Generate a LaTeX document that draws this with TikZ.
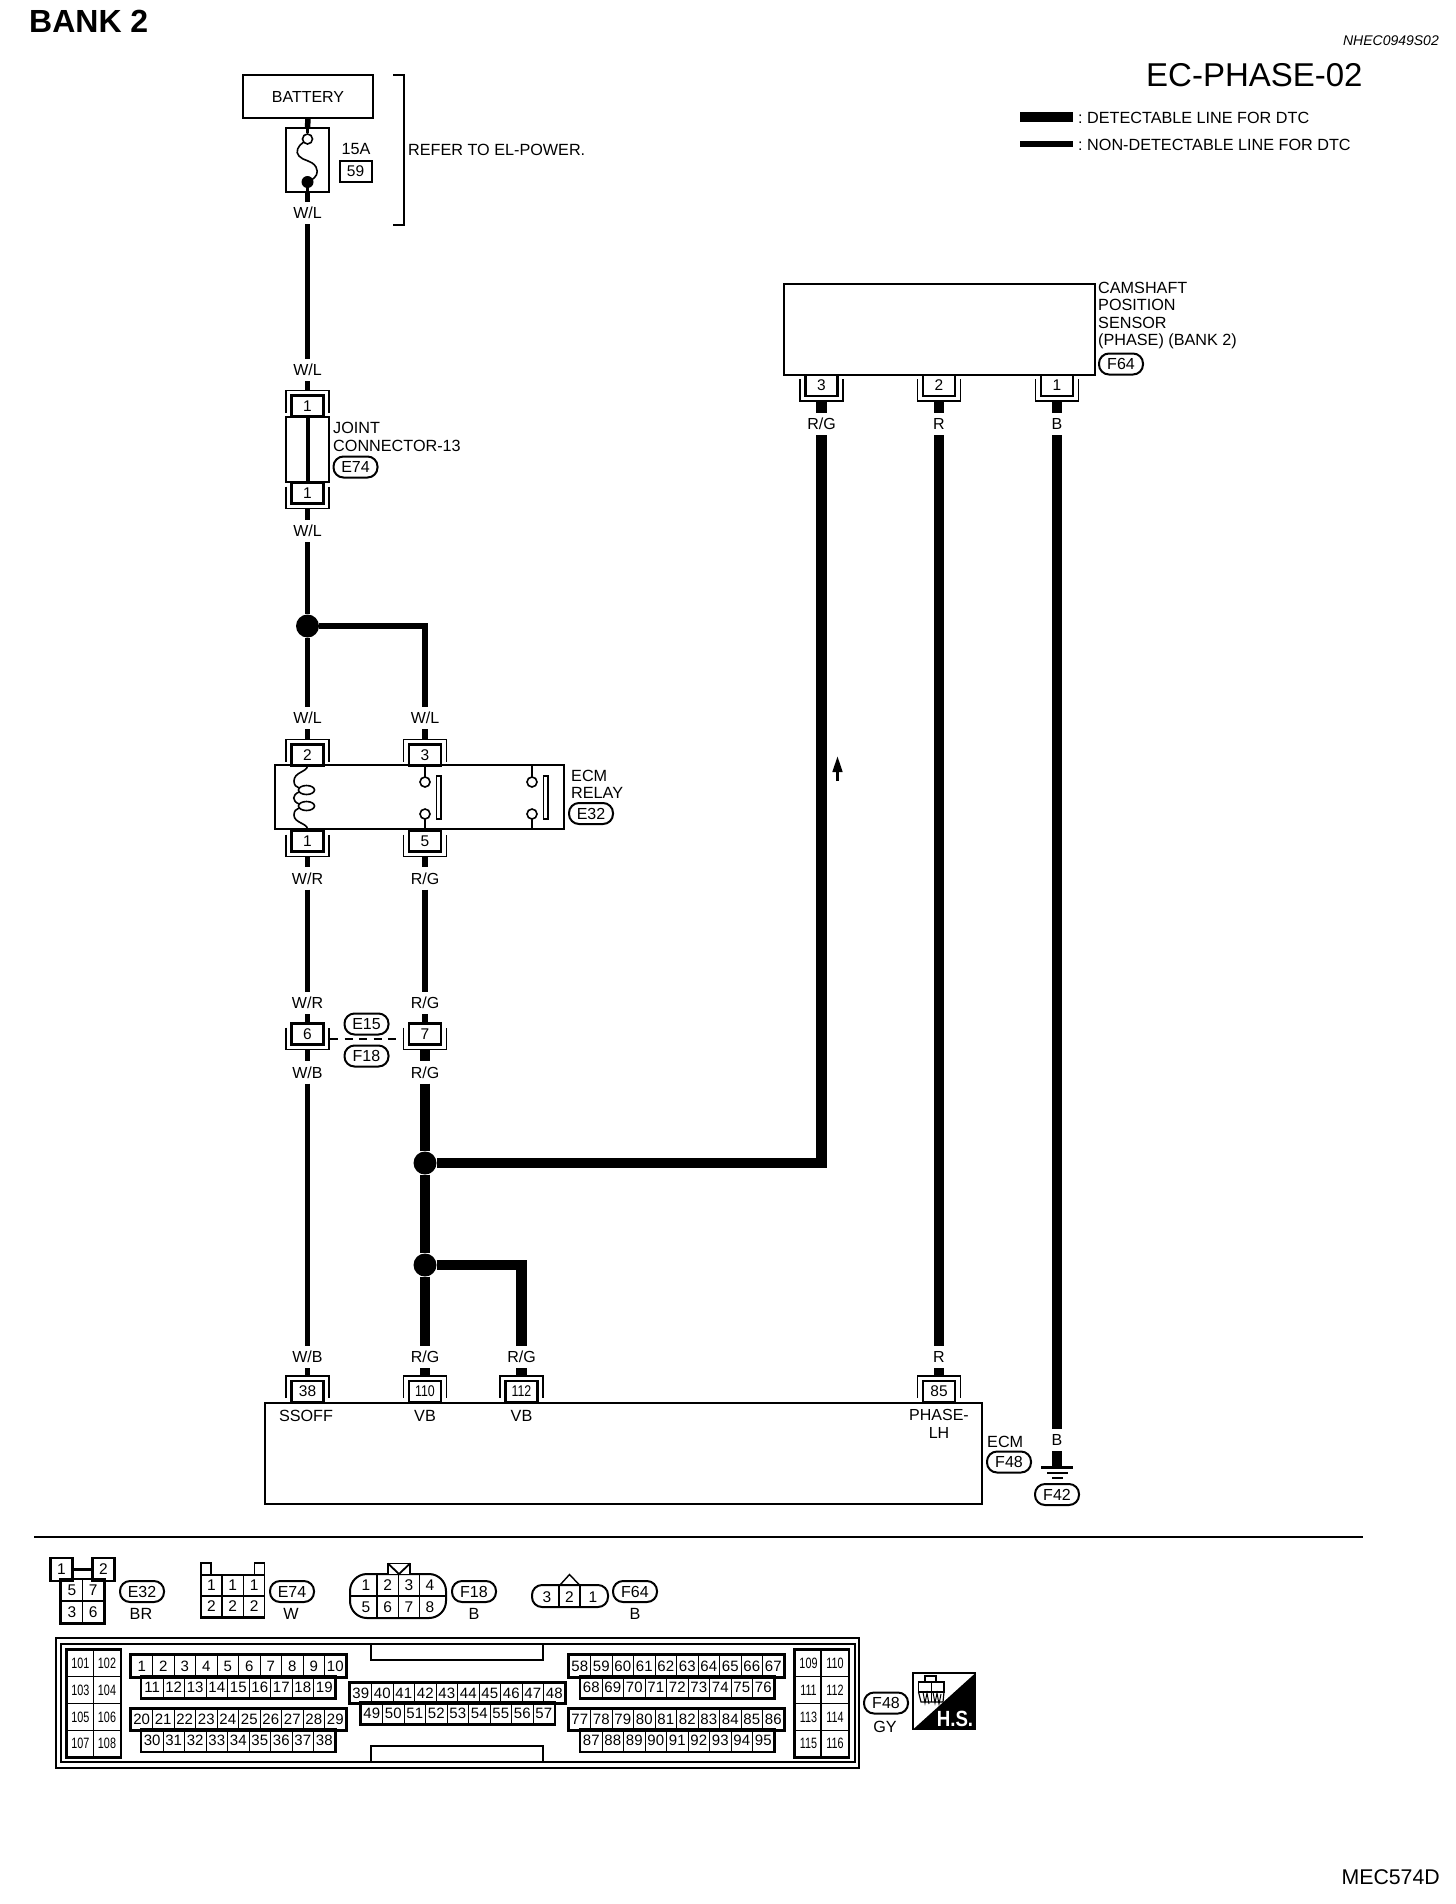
\documentclass[tikz,border=0pt]{standalone}
\usepackage{fontspec}
\setmainfont{Liberation Sans}
\usetikzlibrary{arrows.meta}
\newcommand{\fsz}[1]{\fontsize{#1}{#1}\selectfont}
\newcommand{\narrow}[1]{\scalebox{0.8}[1]{#1}}
\tikzset{
  thinwire/.style={line width=5.5pt,line cap=butt},
  thickwire/.style={line width=10.7pt,line cap=butt},
  wl/.style={inner sep=0pt,minimum height=22pt,font=\fsz{16}},
  txt/.style={inner sep=0pt,font=\fsz{16.2}},
  para/.style={inner sep=0pt,anchor=west,align=left,font=\fontsize{16.2}{17.4}\selectfont},
  body/.style={draw,line width=2pt,inner sep=0pt,fill=white},
  pinbox/.style={draw,line width=2.2pt,fill=white,minimum width=32pt,minimum height=21pt,inner sep=0pt,font=\fsz{15.5}},
  bracket/.style={line width=1.4pt},
  tag/.style={draw,line width=2pt,rounded corners=10pt,minimum width=44pt,minimum height=21pt,inner sep=0pt,font=\fsz{16},fill=white},
  gridcell/.style={draw,line width=1pt,minimum width=21.5pt,inner sep=0pt,font=\fsz{15}},
  rowframe/.style={line width=2.4pt},
  bigcell/.style={draw,line width=1.4pt,minimum height=26.75pt,inner sep=0pt,font=\fsz{15}},
  smallcell/.style={draw,line width=1.4pt,minimum width=21.3pt,minimum height=21.7pt,inner sep=0pt,font=\fsz{15.5}},
  dot/.style={circle,fill=black,inner sep=0pt,minimum size=23pt},
  contact/.style={circle,draw,line width=1.6pt,fill=white,inner sep=0pt,minimum size=10pt},
}
% pin with its wire coming from above
\newcommand{\pinT}[4]{%
  \node[pinbox] (#1) at (#2,#3) {#4};
  \coordinate (#1w) at (#2,{#3-15.5});
  \draw[bracket] ({#2-21.5},{#3+6.5}) -- ({#2-21.5},{#3-15.5}) -- ({#2+21.5},{#3-15.5}) -- ({#2+21.5},{#3+6.5});
}
% pin with its wire leaving below
\newcommand{\pinB}[4]{%
  \node[pinbox] (#1) at (#2,#3) {#4};
  \coordinate (#1w) at (#2,{#3+15.5});
  \draw[bracket] ({#2-21.5},{#3-6.5}) -- ({#2-21.5},{#3+15.5}) -- ({#2+21.5},{#3+15.5}) -- ({#2+21.5},{#3-6.5});
}
% row of numbered cells: x0, top y, height, first, last
\newcommand{\cellrow}[5]{%
  \foreach \n [evaluate=\n as \cx using {#1+(\n-#4+0.5)*21.5}] in {#4,...,#5} {
    \node[gridcell,minimum height=#3 pt] (gc\n) at ({\cx},{#2+#3/2}) {\n};
  }
  \draw[rowframe] (gc#4.north west) rectangle (gc#5.south east);
}
\begin{document}
\begin{tikzpicture}[x=1pt,y=-1pt]
\fill[white] (0,0) rectangle (1456,1904);
\useasboundingbox (0,0) rectangle (1456,1904);

% headers
\node[anchor=west,inner sep=0pt,font=\fsz{32}\bfseries] (bank) at (29,21) {BANK 2};
\node[anchor=east,inner sep=0pt,font=\fsz{14}\itshape] (nhec) at (1439,41) {NHEC0949S02};
\node[anchor=west,inner sep=0pt,font=\fsz{33}] (title) at (1146,75) {EC-PHASE-02};
\node[txt,anchor=west] (legA) at (1078,118) {:\hspace{-1.5pt} DETECTABLE LINE FOR DTC};
\node[txt,anchor=west] (legB) at (1078,145) {:\hspace{-1.5pt} NON-DETECTABLE LINE FOR DTC};
\coordinate (legAs) at (1020,117);
\coordinate (legBs) at (1020,144);
\draw[line width=9.5pt] (legAs) -- ([xshift=-5pt]legA.west |- legAs);
\draw[line width=5.5pt] (legBs) -- ([xshift=-5pt]legB.west |- legBs);
\node[anchor=east,inner sep=0pt,font=\fsz{21.3}] (mec) at (1440,1877) {MEC574D};

% battery and fuse
\node[body,minimum width=130pt,minimum height=43pt,font=\fsz{16}] (battery) at (308,96.5) {BATTERY};
\node[draw,line width=1.3pt,minimum width=43pt,minimum height=64pt,inner sep=0pt] (fuse) at (307.5,160) {};
\node[contact] (ftop) at (307.5,139) {};
\node[circle,fill=black,inner sep=0pt,minimum size=12pt] (fbot) at (307.5,182) {};
\draw[thinwire] (battery.south) -- (fuse.north);
\draw[line width=3pt] (fuse.north) -- (ftop.north);
\draw[line width=3pt] (fbot.south) -- (fuse.south);
\draw[line width=1.6pt] (303,142.5) .. controls (298,146) and (295,152) .. (299,156) .. controls (303,161) and (312,160) .. (316,167) .. controls (319,173) and (316,177) .. (311.5,180);
\node[txt] (amp) at (356,149) {15A};
\node[draw,line width=2pt,minimum width=32pt,minimum height=21pt,inner sep=0pt,font=\fsz{15.5}] (fnum) at (355.5,171.5) {59};
\draw[line width=2pt] (393,75) -- (404,75) -- (404,225) -- (393,225);
\node[txt,anchor=west] (refer) at (408,150) {REFER TO EL-POWER.};

% left wire
\node[wl] (wl1) at (307.5,213) {W/L};
\node[wl] (wl2) at (307.5,370) {W/L};
\draw[thinwire] (fuse.south) -- (wl1.north);
\draw[thinwire] (wl1.south) -- (wl2.north);
\pinT{jc1}{307.5}{406}{1}
\draw[thinwire] (wl2.south) -- (jc1w);
\node[body,minimum width=43pt,minimum height=65pt] (jcbody) at (307.5,449.5) {};
\draw[line width=4pt] (jcbody.north) -- (jcbody.south);
\pinB{jc2}{307.5}{493}{1}
\node[para] (jctext) at (333,437) {JOINT\\CONNECTOR-13};
\node[tag] (e74a) at (355.5,467) {E74};
\node[wl] (wl3) at (307.5,531) {W/L};
\draw[thinwire] (jc2w) -- (wl3.north);
\node[dot] (j1) at (307.5,626) {};
\node[wl] (wl4) at (307.5,718) {W/L};
\node[wl] (wl5) at (425,718) {W/L};
\draw[thinwire] (wl3.south) -- (j1);
\draw[thinwire] (j1) -- (wl4.north);
\draw[thinwire] (j1) -| (wl5.north);

% relay
\node[body,minimum width=289pt,minimum height=64pt] (relay) at (419.5,797) {};
\pinT{r2}{307.5}{755}{2}
\pinT{r3}{425}{755}{3}
\pinB{r1}{307.5}{841}{1}
\pinB{r5}{425}{841}{5}
\draw[thinwire] (wl4.south) -- (r2w);
\draw[thinwire] (wl5.south) -- (r3w);
\foreach \sx in {425,532} {
  \draw[line width=1.6pt] (\sx,765) -- (\sx,778);
  \draw[line width=1.6pt] (\sx,818) -- (\sx,829);
  \node[contact] at (\sx,782) {};
  \node[contact] at (\sx,814) {};
}
\draw[line width=1.5pt,fill=white] (436.5,776) rectangle (441,819);
\draw[line width=1.5pt,fill=white] (543.5,776) rectangle (548,819);
\draw[line width=1.6pt] (306.5,790) ellipse (8 and 4.5);
\draw[line width=1.6pt] (306.5,806) ellipse (8 and 4.5);
\draw[line width=1.6pt] (307.5,766) .. controls (307,772) and (294,772) .. (294,781) .. controls (294,785) and (296,787) .. (299,788);
\draw[line width=1.6pt] (299,792) .. controls (292,795) and (292,801) .. (299,804);
\draw[line width=1.6pt] (299,808) .. controls (296,809) and (294,811) .. (294,815) .. controls (294,823) and (307,823) .. (307.5,829);
\node[para] (ecmr) at (571,784.5) {ECM\\RELAY};
\node[tag] (e32a) at (591,813.5) {E32};
\node[wl] (wl6) at (307.5,878.5) {W/R};
\node[wl] (wl7) at (425,878.5) {R/G};
\draw[thinwire] (r1w) -- (wl6.north);
\draw[thinwire] (r5w) -- (wl7.north);
\node[wl] (wl8) at (307.5,1003) {W/R};
\node[wl] (wl9) at (425,1003) {R/G};
\draw[thinwire] (wl6.south) -- (wl8.north);
\draw[thinwire] (wl7.south) -- (wl9.north);

% harness connector
\pinB{p6}{307.5}{1034}{6}
\pinB{p7}{425}{1034}{7}
\draw[thinwire] (wl8.south) -- (p6.north);
\draw[thinwire] (wl9.south) -- (p7.north);
\draw[line width=1.6pt,dash pattern=on 8pt off 6.5pt] ([xshift=5.5pt]p6.east |- 0,1039) -- (403.5,1039);
\node[tag] (e15) at (366.5,1024) {E15};
\node[tag] (f18a) at (366.5,1056) {F18};
\node[wl] (wl10) at (307.5,1072.5) {W/B};
\node[wl] (wl11) at (425,1072.5) {R/G};
\draw[thinwire] (p6w) -- (wl10.north);
\draw[thickwire] (p7w) -- (wl11.north);
\node[dot] (j2) at (425,1163) {};
\node[dot] (j3) at (425,1265) {};
\node[wl] (wl12) at (307.5,1357) {W/B};
\node[wl] (wl13) at (425,1357) {R/G};
\node[wl] (wl14) at (521.5,1357) {R/G};
\node[wl] (wl15) at (939,1357) {R};
\draw[thinwire] (wl10.south) -- (wl12.north);
\draw[thickwire] (wl11.south) -- (j2);
\draw[thickwire] (j2) -- (j3);
\draw[thickwire] (j3) -- (wl13.north);
\draw[thickwire] (j3) -| (wl14.north);

% ECM
\node[body,minimum width=717pt,minimum height=101pt] (ecm) at (623.5,1453.5) {};
\pinT{e38}{307.5}{1391.5}{38}
\pinT{e110}{425}{1391.5}{\narrow{110}}
\pinT{e112}{521.5}{1391.5}{\narrow{112}}
\pinT{e85}{939}{1391.5}{85}
\draw[thinwire] (wl12.south) -- (e38w);
\draw[thickwire] (wl13.south) -- (e110w);
\draw[thickwire] (wl14.south) -- (e112w);
\draw[thickwire] (wl15.south) -- (e85w);
\node[txt] (ssoff) at (306,1416) {SSOFF};
\node[txt] (vb1) at (425,1416) {VB};
\node[txt] (vb2) at (521.5,1416) {VB};
\node[txt,align=center,font=\fontsize{16}{18}\selectfont] (phase) at (939,1424) {PHASE-\\LH};
\node[txt,anchor=west] (ecmt) at (987,1442) {ECM};
\node[tag] (f48a) at (1009,1462) {F48};

% sensor
\node[body,minimum width=311pt,minimum height=91pt] (sensor) at (939.5,329.5) {};
\pinB{s3}{821.5}{385.5}{3}
\pinB{s2}{939}{385.5}{2}
\pinB{s1}{1057}{385.5}{1}
\node[para] (camt) at (1098,315.5) {CAMSHAFT\\POSITION\\SENSOR\\(PHASE) (BANK 2)};
\node[tag] (f64a) at (1121,364) {F64};
\node[wl] (wl16) at (821.5,424) {R/G};
\node[wl] (wl17) at (939,424) {R};
\node[wl] (wl18) at (1057,424) {B};
\draw[thickwire] (s3w) -- (wl16.north);
\draw[thickwire] (s2w) -- (wl17.north);
\draw[thickwire] (s1w) -- (wl18.north);
\draw[thickwire] (wl16.south) |- (j2);
\draw[thickwire] (wl17.south) -- (wl15.north);
\node[wl] (wl19) at (1057,1440) {B};
\draw[thickwire] (wl18.south) -- (wl19.north);
\coordinate (gnd) at (1057,1467);
\draw[thickwire] (wl19.south) -- (gnd);
\draw[line width=3pt] (1041,1467) -- (1073,1467);
\draw[line width=1.6pt] (1047,1473) -- (1068,1473);
\draw[line width=1.4pt] (1052,1478) -- (1063,1478);
\node[tag] (f42) at (1057,1494.5) {F42};
\coordinate (arA) at (837.5,781);
\coordinate (arB) at (837.5,756);
\draw[line width=3pt,-{Triangle[width=9.5pt,length=16pt]}] (arA) -- (arB);

% separator
\draw[line width=2.4pt] (34,1537) -- (1363,1537);

% E32 connector view
\node[smallcell] (a1) at (61.5,1569.5) {1};
\node[smallcell] (a2) at (103.5,1569.5) {2};
\draw[line width=2.2pt] (a1.east) -- (a2.west);
\node[smallcell] (a5) at (72,1590.5) {5};
\node[smallcell] (a7) at (93.3,1590.5) {7};
\node[smallcell] (a3) at (72,1612) {3};
\node[smallcell] (a6) at (93.3,1612) {6};
\draw[rowframe] (a5.north west) rectangle (a6.south east);
\draw[line width=2.2pt] (a1.north west) rectangle (a1.south east);
\draw[line width=2.2pt] (a2.north west) rectangle (a2.south east);
\node[tag] (e32b) at (142,1591.5) {E32};
\node[txt] (colbr) at (141,1614) {BR};

% E74 connector view
\foreach \cname/\cx/\cy/\ct in {b1/211.5/1585.5/1,b2/232.8/1585.5/1,b3/254.1/1585.5/1,b4/211.5/1606.5/2,b5/232.8/1606.5/2,b6/254.1/1606.5/2} {
  \node[smallcell,minimum height=21pt] (\cname) at (\cx,\cy) {\ct};
}
\draw[line width=2.2pt] (b4.south west) -- (b6.south east);
\draw[line width=1.6pt] (201,1575) -- (201,1563) -- (211,1563) -- (211,1575);
\draw[line width=1.6pt] (254.5,1575) -- (254.5,1563) -- (264.5,1563) -- (264.5,1575);
\node[tag] (e74b) at (292,1591.5) {E74};
\node[txt] (colw) at (291,1614) {W};

% F18 connector view
\draw[line width=2pt,rounded corners=17pt] (350,1574) rectangle (446,1618);
\draw[line width=1.4pt] (350,1596) -- (446,1596);
\foreach \dx in {377,398.3,419.7} \draw[line width=1.4pt] (\dx,1574) -- (\dx,1618);
\foreach \lt/\cx/\cy in {1/366/1585,2/387.7/1585,3/409/1585,4/430/1585,5/366/1607,6/387.7/1607,7/409/1607,8/430/1607} {
  \node[inner sep=0pt,font=\fsz{15.5}] (d\lt) at (\cx,\cy) {\lt};
}
\draw[line width=1.6pt,fill=white] (388,1574) -- (388,1563.5) -- (410,1563.5) -- (410,1574);
\draw[line width=1.8pt] (388,1563.5) -- (399,1574) -- (410,1563.5);
\node[tag] (f18b) at (474,1591.5) {F18};
\node[txt] (colb1) at (474,1614) {B};

% F64 connector view
\draw[line width=2pt,rounded corners=10pt] (532,1585) rectangle (608,1607);
\draw[line width=1.4pt] (559,1585) -- (559,1607);
\draw[line width=1.4pt] (580,1585) -- (580,1607);
\draw[line width=1.4pt] (560,1585) -- (569.5,1574.5) -- (579.5,1585);
\node[inner sep=0pt,font=\fsz{15.5}] (g3) at (547,1597) {3};
\node[inner sep=0pt,font=\fsz{15.5}] (g2) at (569.5,1597) {2};
\node[inner sep=0pt,font=\fsz{15.5}] (g1) at (593,1597) {1};
\node[tag] (f64b) at (635,1591.5) {F64};
\node[txt] (colb2) at (635,1614) {B};

% ECM connector view
\draw[line width=2.6pt] (56,1638) rectangle (859,1768);
\draw[line width=1.5pt] (61,1644) rectangle (855,1762);
\draw[line width=1.5pt] (371,1644) -- (371,1660) -- (543,1660) -- (543,1644);
\draw[line width=1.5pt] (371,1762) -- (371,1746) -- (543,1746) -- (543,1762);
\foreach \n/\cx/\cy in {101/80.3/1663.4,102/107/1663.4,103/80.3/1690.1,104/107/1690.1,105/80.3/1716.9,106/107/1716.9,107/80.3/1743.6,108/107/1743.6,109/808.5/1663.4,110/835/1663.4,111/808.5/1690.1,112/835/1690.1,113/808.5/1716.9,114/835/1716.9,115/808.5/1743.6,116/835/1743.6} {
  \node[bigcell,minimum width=26.5pt] (bc\n) at (\cx,\cy) {\scalebox{0.72}[1]{\n}};
}
\draw[line width=2.2pt] (bc101.north west) rectangle (bc108.south east);
\draw[line width=2.2pt] (bc109.north west) rectangle (bc116.south east);
\draw[line width=2.2pt] (bc110.north west) -- (bc116.south west);
\cellrow{131}{1655}{22}{1}{10}
\cellrow{141.5}{1677}{21}{11}{19}
\cellrow{131}{1709}{21}{20}{29}
\cellrow{141.5}{1730}{21.5}{30}{38}
\cellrow{350}{1683}{20}{39}{48}
\cellrow{361}{1703}{21}{49}{57}
\cellrow{569}{1655}{22}{58}{67}
\cellrow{580.5}{1677}{21}{68}{76}
\cellrow{569}{1709}{21}{77}{86}
\cellrow{580.5}{1730}{21.5}{87}{95}
\node[tag] (f48b) at (886,1703) {F48};
\node[txt] (colgy) at (885,1727) {GY};

% hot-spot symbol
\draw[line width=1.2pt] (913,1673) rectangle (975.5,1729.5);
\fill[black] (975.5,1673) -- (975.5,1729.5) -- (913,1729.5) -- cycle;
\node[inner sep=0pt,text=white,font=\fsz{22}\bfseries] (hs) at (955,1718.5) {\scalebox{0.85}[1]{H.S.}};
\draw[line width=1.2pt] (918.5,1682) rectangle (944,1692);
\draw[line width=1.2pt] (925,1682) -- (925,1676) -- (936,1676) -- (936,1682);
\draw[line width=1.2pt] (918.5,1692) -- (921,1702) -- (943,1702) -- (944,1692);
\draw[line width=1pt] (931,1682) -- (931,1702);
\draw[line width=1pt] (923,1692) -- (925,1703) -- (927,1693) -- (929,1704);
\draw[line width=1pt] (933,1692) -- (935,1703) -- (937,1693) -- (939,1704) -- (941,1694);
\end{tikzpicture}
\end{document}
